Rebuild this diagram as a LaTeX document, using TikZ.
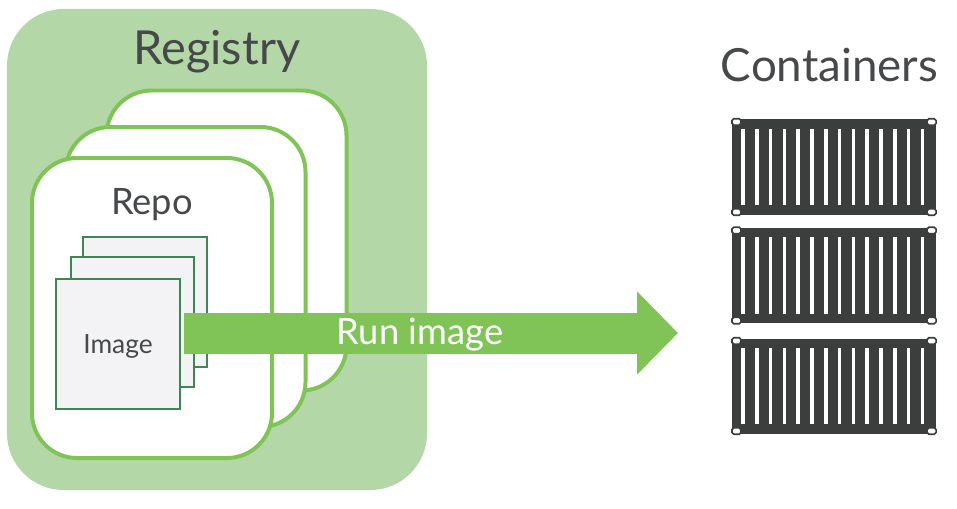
\documentclass[tikz,border=0pt]{standalone}
\usepackage{fontspec}
\setmainfont{Lato}
\usetikzlibrary{arrows.meta,positioning}
\definecolor{RegGreen}{RGB}{180,215,168}
\definecolor{LineGreen}{RGB}{128,196,88}
\definecolor{ImgGreen}{RGB}{62,135,84}
\definecolor{ImgBg}{RGB}{243,243,245}
\definecolor{BoxDark}{RGB}{60,62,62}
\definecolor{TextGrey}{RGB}{70,72,74}
\tikzset{
  registry/.style={rectangle,rounded corners=1.7cm,fill=RegGreen,
                minimum width=12.6cm,minimum height=14.43cm,inner sep=0pt},
  repo/.style={rectangle,rounded corners=1.35cm,draw=LineGreen,fill=white,line width=3.4pt,
                minimum width=7.2cm,minimum height=9cm,inner sep=0pt},
  image/.style={rectangle,draw=ImgGreen,fill=ImgBg,line width=1.8pt,
                minimum width=3.7cm,minimum height=3.9cm,inner sep=0pt},
  box/.style={rectangle,fill=BoxDark,minimum width=6.12cm,minimum height=2.85cm,inner sep=0pt},
  slat/.style={rectangle,fill=white,minimum width=.11cm,minimum height=2.3cm,inner sep=0pt},
  hole/.style={rectangle,rounded corners=1.5pt,draw=BoxDark,fill=white,line width=1.4pt,
                minimum width=.27cm,minimum height=.19cm,inner sep=0pt},
  title/.style={font=\fontsize{39}{39}\selectfont,text=TextGrey,inner sep=0pt},
  runarrow/.style={-{Triangle[length=1.23cm,width=2.43cm]},LineGreen,line width=1.23cm},
}

\begin{document}
\begin{tikzpicture}[x=.03cm,y=-.03cm]
    \useasboundingbox (0,0) rectangle (957,509);
    \fill[white] (0,0) rectangle (957,509);

    \node[registry] (reg) at (217,249.5) {};
    \node[title,font=\fontsize{40}{40}\selectfont] (regtitle) at (217,52) {Registry};

    \node[repo] (repoc) at (226.5,240.5) {};
    \node[repo] (repob) at (185.5,277) {};
    \node[repo] (repoa) at (152,308) {};
    \node[font=\fontsize{31}{31}\selectfont,text=TextGrey,inner sep=0pt] (repotitle) at (152,205) {Repo};

    \node[image] (imgc) at (145,302) {};
    \node[image] (imgb) at (132.5,322) {};
    \node[image] (imga) at (118,344) {};
    \node[font=\fontsize{22.5}{22.5}\selectfont,text=TextGrey,inner sep=0pt] (imgtitle) at (118,346) {Image};

    \node[title] (boxtitle) at (829.5,65) {Containers};
    \foreach \cname/\cy in {boxa/167,boxb/275.5,boxc/386}{
      \node[box] (\cname) at (834,\cy) {};
      \foreach \i in {0,...,13}{
        \node[slat] (\cname-s\i) at ({743+13.8*\i},\cy) {};
      }
      \node[hole] (\cname-nw) at ([xshift=.14cm,yshift=-.08cm]\cname.north west) {};
      \node[hole] (\cname-ne) at ([xshift=-.14cm,yshift=-.08cm]\cname.north east) {};
      \node[hole] (\cname-sw) at ([xshift=.14cm,yshift=.08cm]\cname.south west) {};
      \node[hole] (\cname-se) at ([xshift=-.14cm,yshift=.08cm]\cname.south east) {};
    }

    \coordinate (runstart) at (184,333);
    \coordinate (runend) at (678,333);
    \draw[runarrow] (runstart) -- (runend);
    \node[font=\fontsize{31}{31}\selectfont,text=white,inner sep=0pt] (runtitle) at (420,335) {Run image};
\end{tikzpicture}
\end{document}
